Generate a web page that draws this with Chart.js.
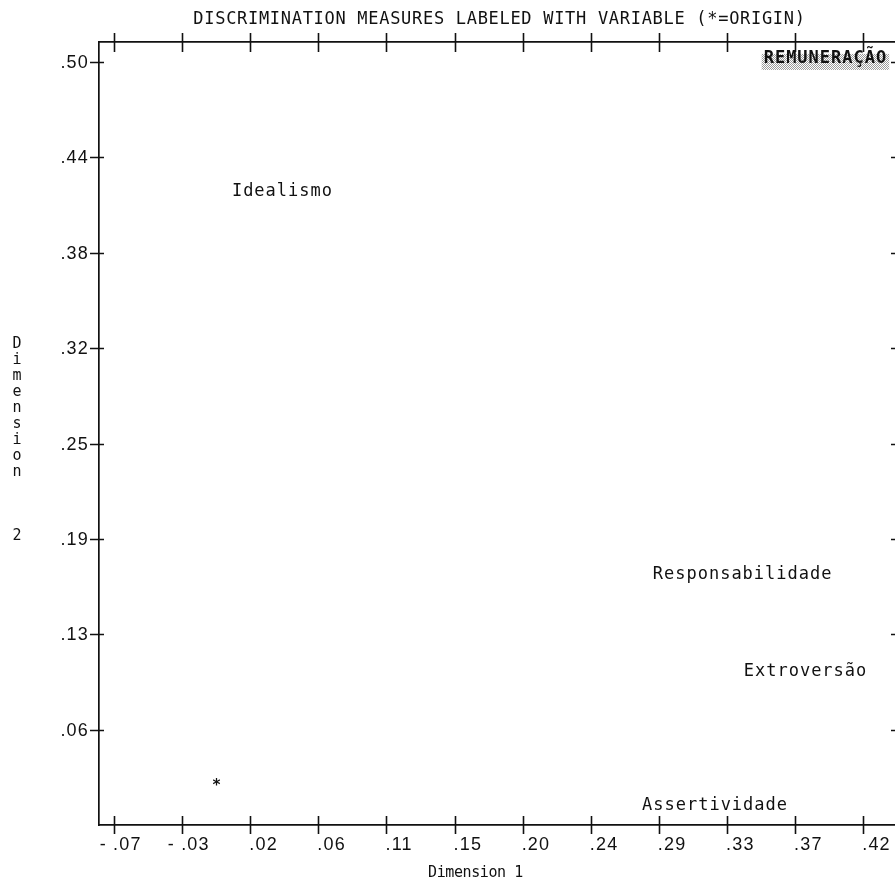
<!DOCTYPE html>
<html>
<head>
<meta charset="utf-8">
<script src="https://cdn.jsdelivr.net/npm/chart.js@4.4.1/dist/chart.umd.min.js"></script>
<style>
  html, body { margin: 0; padding: 0; background: #fff; overflow: hidden; }
  #wrap { width: 905px; height: 889px; }
</style>
</head>
<body>
<div id="wrap"><canvas id="c" width="905" height="889"></canvas></div>
<script>
// Discrimination measures per variable (HOMALS, dimensions 1 and 2)
const variables = ['REMUNERAÇÃO', 'Idealismo', 'Responsabilidade', 'Extroversão', 'Assertividade'];
const dim1 = [0.394, 0.040, 0.340, 0.381, 0.322];
const dim2 = [0.507, 0.419, 0.165, 0.101, 0.0125];
const emphasised = ['REMUNERAÇÃO'];
// origin marker as it sits on the printed character grid
const originMark = [-0.003, 0.028];

// Axis tick labels (printed rounded to two decimals)
const xTickLabels = ['- .07', '- .03', '.02', '.06', '.11', '.15', '.20', '.24', '.29', '.33', '.37', '.42'];
const yTickLabels = ['.06', '.13', '.19', '.25', '.32', '.38', '.44', '.50'];
const X_FIRST_TICK = -0.0698, X_TICK_STEP = 0.0444;
const Y_FIRST_TICK = 0.0625, Y_TICK_STEP = 0.0632;
const X_MIN = -0.0796, X_MAX = 0.4426;
const Y_MIN = -0.0007, Y_MAX = 0.5182;

const titleText = 'DISCRIMINATION MEASURES LABELED WITH VARIABLE (*=ORIGIN)';
const xTitle = 'Dimension 1';
const yTitle = 'Dimension   2';

const INK = '#111';
const MONO = '"DejaVu Sans Mono", monospace';
const SANS = '"Liberation Sans", Arial, sans-serif';

function fixedTicks(first, step, labels) {
  return scale => {
    scale.ticks = labels.map((_, k) => ({ value: first + k * step }));
  };
}

function frameAxis(position, min, max, first, step, labels) {
  return {
    type: 'linear',
    position,
    min, max,
    afterBuildTicks: fixedTicks(first, step, labels),
    ticks: { display: false },
    grid: { display: false, drawTicks: false },
    border: { display: true, color: INK, width: 1.7 }
  };
}

function stipple() {
  const p = document.createElement('canvas');
  p.width = 2; p.height = 2;
  const g = p.getContext('2d');
  g.fillStyle = '#9a9a9a';
  g.fillRect(0, 0, 1, 1);
  g.fillRect(1, 1, 1, 1);
  return p;
}

// Draws crossing tick marks, tick labels, titles and the variable labels
const printedPlot = {
  id: 'printedPlot',
  afterDraw(chart) {
    const { ctx, chartArea: a, scales } = chart;
    const xs = scales.x, ys = scales.y;
    ctx.save();
    ctx.strokeStyle = INK;
    ctx.fillStyle = INK;
    ctx.lineWidth = 1.6;

    // tick marks crossing all four sides of the frame
    ctx.beginPath();
    xs.ticks.forEach(t => {
      const px = Math.round(xs.getPixelForValue(t.value)) + 0.5;
      ctx.moveTo(px, a.bottom - 9); ctx.lineTo(px, a.bottom + 9);
      ctx.moveTo(px, a.top - 9); ctx.lineTo(px, a.top + 10);
    });
    ys.ticks.forEach(t => {
      const py = Math.round(ys.getPixelForValue(t.value)) + 0.5;
      ctx.moveTo(a.left - 9, py); ctx.lineTo(a.left + 5, py);
      ctx.moveTo(a.right - 9, py); ctx.lineTo(a.right + 8, py);
    });
    ctx.stroke();

    // tick labels: decimal point sits on the x tick, y labels end at the tick
    ctx.font = '18px ' + SANS;
    ctx.letterSpacing = '1.2px';
    ctx.textBaseline = 'middle';
    ctx.textAlign = 'left';
    xs.ticks.forEach((t, k) => {
      const label = xTickLabels[k];
      const pre = label.slice(0, label.indexOf('.'));
      const px = xs.getPixelForValue(t.value);
      const w = pre ? ctx.measureText(pre).width : 0;
      ctx.fillText(label, px - w - 1, a.bottom + 20);
    });
    ctx.textAlign = 'right';
    ys.ticks.forEach((t, k) => {
      const py = ys.getPixelForValue(t.value);
      ctx.fillText(yTickLabels[k], a.left - 10, py + 1);
    });

    // chart title
    ctx.font = '17px ' + MONO;
    ctx.letterSpacing = '0.7px';
    ctx.textAlign = 'center';
    ctx.fillText(titleText, (a.left + a.right) / 2, 20);

    // axis titles
    ctx.font = '15px ' + MONO;
    ctx.letterSpacing = '-0.4px';
    ctx.fillText(xTitle, (a.left + a.right) / 2 - 24, 873);
    ctx.font = '15px ' + MONO;
    ctx.letterSpacing = '0px';
    [...yTitle].forEach((ch, i) => {
      if (ch.trim()) ctx.fillText(ch, 17, 344 + i * 16);
    });

    // variable labels centred on their coordinates
    ctx.letterSpacing = '1px';
    const meta = chart.getDatasetMeta(0);
    meta.data.forEach((pt, i) => {
      const name = variables[i];
      const strong = emphasised.includes(name);
      ctx.font = (strong ? 'bold ' : '') + '17px ' + MONO;
      if (strong) {
        const w = ctx.measureText(name).width;
        ctx.save();
        ctx.fillStyle = ctx.createPattern(stipple(), 'repeat');
        ctx.fillRect(pt.x - w / 2 - 2, pt.y - 5, w + 4, 16);
        ctx.restore();
      }
      ctx.fillText(name, pt.x, pt.y);
    });

    // origin marker
    const o = chart.getDatasetMeta(1).data[0];
    ctx.font = 'bold 15px ' + MONO;
    ctx.letterSpacing = '0px';
    ctx.fillText('*', o.x, o.y + 4);
    ctx.restore();
  }
};

new Chart(document.getElementById('c'), {
  type: 'scatter',
  data: {
    datasets: [
      {
        label: 'Discrimination measures',
        data: variables.map((v, i) => ({ x: dim1[i], y: dim2[i] })),
        pointRadius: 0
      },
      {
        label: 'Origin',
        data: [{ x: originMark[0], y: originMark[1] }],
        pointRadius: 0
      }
    ]
  },
  options: {
    responsive: false,
    animation: false,
    devicePixelRatio: 1,
    layout: { padding: { left: 99, top: 42, right: 5, bottom: 64 } },
    plugins: { legend: { display: false }, tooltip: { enabled: false }, title: { display: false } },
    scales: {
      x: frameAxis('bottom', X_MIN, X_MAX, X_FIRST_TICK, X_TICK_STEP, xTickLabels),
      x2: frameAxis('top', X_MIN, X_MAX, X_FIRST_TICK, X_TICK_STEP, xTickLabels),
      y: frameAxis('left', Y_MIN, Y_MAX, Y_FIRST_TICK, Y_TICK_STEP, yTickLabels),
      y2: frameAxis('right', Y_MIN, Y_MAX, Y_FIRST_TICK, Y_TICK_STEP, yTickLabels)
    }
  },
  plugins: [printedPlot]
});
</script>
</body>
</html>
